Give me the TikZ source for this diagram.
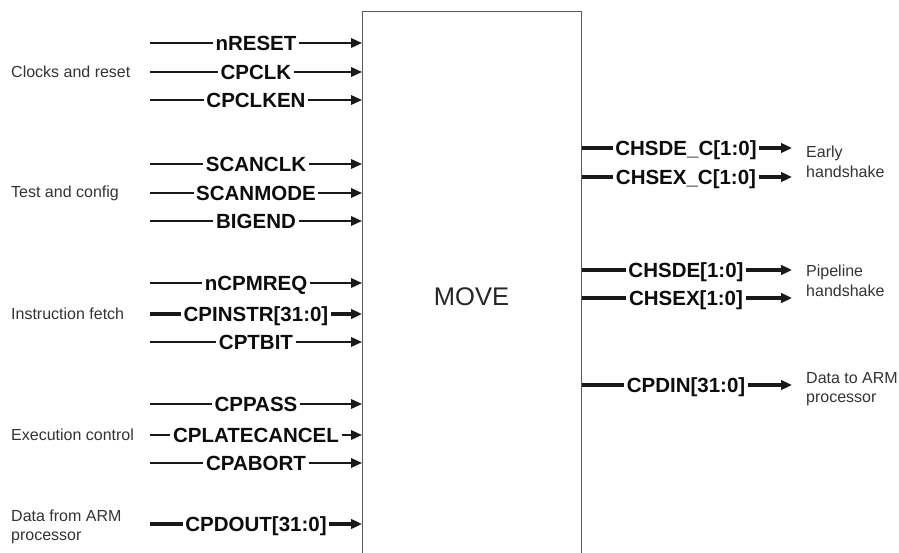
\documentclass[tikz,border=0pt]{standalone}
\usepackage{fontspec}
\setmainfont{Liberation Sans}
\usetikzlibrary{arrows.meta}

\begin{document}
\begin{tikzpicture}[x=1pt,y=-1pt,
  sig/.style={font=\bfseries\fontsize{20.5}{24}\selectfont, text=black!95,
    fill=white, inner xsep=2.5pt, inner ysep=0pt, text height=14.7pt, text depth=0pt},
  grp/.style={font=\fontsize{16}{19.5}\selectfont, text=black!80,
    align=left, anchor=west, inner sep=0pt},
  onebit/.style={line width=1.9pt, draw=black!90},
  bus/.style={line width=3.8pt, draw=black!90},
  tip/.style={-{Triangle[length=11pt,width=9.5pt]}},
  blockbox/.style={draw=black!65, line width=1.3pt, fill=none, inner sep=0pt}
]
\useasboundingbox (0,0) rectangle (899,553);
\clip (0,0) rectangle (899,553);

% the coprocessor block (runs off the lower edge)
\node[blockbox, anchor=north west, minimum width=219pt, minimum height=600pt] (box) at (362,11) {};
\node[font=\fontsize{25.5}{30}\selectfont, text=black!85] (move) at (471.5,297) {MOVE};

% input signals
\foreach \n/\t/\y/\s in {
    rst/{nRESET}/43/onebit,
    clk/{CPCLK}/72/onebit,
    clken/{CPCLKEN}/100/onebit,
    sclk/{SCANCLK}/164/onebit,
    smode/{SCANMODE}/193/onebit,
    bigend/{BIGEND}/221/onebit,
    mreq/{nCPMREQ}/283/onebit,
    instr/{CPINSTR[31:0]}/314/bus,
    tbit/{CPTBIT}/342/onebit,
    pass/{CPPASS}/404/onebit,
    lcancel/{CPLATECANCEL}/435/onebit,
    abort/{CPABORT}/463/onebit,
    dout/{CPDOUT[31:0]}/524/bus} {
  \coordinate (\n-src) at (150,\y);
  \node[sig] (\n) at (256,\y) {\t};
  \draw[\s] (\n-src) -- (\n.west);
  \draw[\s,tip] (\n.east) -- (\n.east -| box.west);
}

% output signals
\foreach \n/\t/\y in {
    sdec/{CHSDE\_C[1:0]}/148,
    sexc/{CHSEX\_C[1:0]}/177,
    sde/{CHSDE[1:0]}/270,
    sex/{CHSEX[1:0]}/298,
    din/{CPDIN[31:0]}/385} {
  \node[sig] (\n) at (686,\y) {\t};
  \coordinate (\n-dst) at (792,\y);
  \draw[bus] (\n.west -| box.east) -- (\n.west);
  \draw[bus,tip] (\n.east) -- (\n-dst);
}

% group captions, left
\node[grp] (g1) at (11,72) {Clocks and reset};
\node[grp] (g2) at (11,193) {Test and config};
\node[grp] (g3) at (11,314) {Instruction fetch};
\node[grp] (g4) at (11,435) {Execution control};
\node[grp] (g5) at (11,527) {Data from ARM\\processor};

% group captions, right
\node[grp] (h1) at (806,162) {Early\\handshake};
\node[grp] (h2) at (806,281) {Pipeline\\handshake};
\node[grp] (h3) at (806,389) {Data to ARM\\processor};
\end{tikzpicture}
\end{document}
